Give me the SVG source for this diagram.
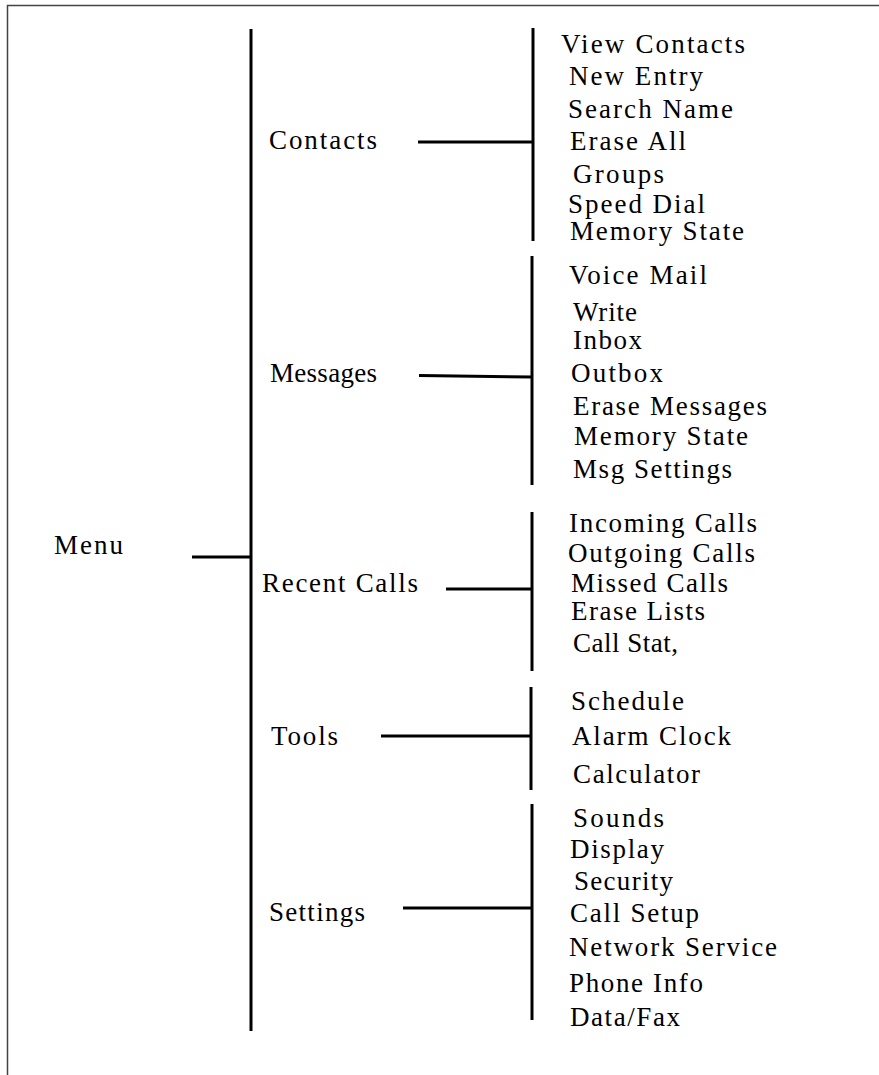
<svg xmlns="http://www.w3.org/2000/svg" width="879" height="1075" viewBox="0 0 879 1075">
<style>
text{font-family:'Liberation Serif','Times New Roman',serif;font-size:27px;fill:#000}
.c{stroke:#000;stroke-width:3;fill:none}
.b{stroke:#444;stroke-width:1.5;fill:none}
</style>
<rect width="879" height="1075" fill="#fff"/>
<path class="b" d="M7.5,1075 V5.5 H879"/>
<g id="connectors">
<line class="c" x1="251" y1="29" x2="251" y2="1031"/>
<line class="c" x1="192" y1="557" x2="251" y2="557"/>
<line class="c" x1="533" y1="28" x2="533" y2="241"/>
<line class="c" x1="418" y1="142" x2="533" y2="142"/>
<line class="c" x1="532" y1="256" x2="532" y2="485"/>
<line class="c" x1="419" y1="375.5" x2="532" y2="377"/>
<line class="c" x1="532" y1="512" x2="532" y2="671"/>
<line class="c" x1="446" y1="589" x2="532" y2="589"/>
<line class="c" x1="531" y1="687" x2="531" y2="790"/>
<line class="c" x1="381" y1="736" x2="531" y2="736"/>
<line class="c" x1="532" y1="804" x2="532" y2="1020"/>
<line class="c" x1="403" y1="908" x2="532" y2="908"/>
</g>
<g id="menu" font-family="Liberation Serif, serif"><text x="54" y="554" textLength="69" lengthAdjust="spacing">Menu</text></g>
<g id="contacts" font-family="Liberation Serif, serif">
<text x="269" y="149" textLength="108" lengthAdjust="spacing">Contacts</text>
<text x="561" y="53" textLength="184" lengthAdjust="spacing">View Contacts</text>
<text x="569" y="85" textLength="134" lengthAdjust="spacing">New Entry</text>
<text x="568" y="118" textLength="165" lengthAdjust="spacing">Search Name</text>
<text x="570" y="150" textLength="116" lengthAdjust="spacing">Erase All</text>
<text x="573" y="183" textLength="91" lengthAdjust="spacing">Groups</text>
<text x="568" y="213" textLength="137" lengthAdjust="spacing">Speed Dial</text>
<text x="570" y="240" textLength="174" lengthAdjust="spacing">Memory State</text>
</g>
<g id="messages" font-family="Liberation Serif, serif">
<text x="270" y="382" textLength="107" lengthAdjust="spacing">Messages</text>
<text x="569" y="284" textLength="138" lengthAdjust="spacing">Voice Mail</text>
<text x="573" y="321" textLength="64" lengthAdjust="spacing">Write</text>
<text x="573" y="349" textLength="69" lengthAdjust="spacing">Inbox</text>
<text x="571" y="382" textLength="92" lengthAdjust="spacing">Outbox</text>
<text x="573" y="415" textLength="194" lengthAdjust="spacing">Erase Messages</text>
<text x="574" y="445" textLength="174" lengthAdjust="spacing">Memory State</text>
<text x="573" y="478" textLength="159" lengthAdjust="spacing">Msg Settings</text>
</g>
<g id="recent-calls" font-family="Liberation Serif, serif">
<text x="262" y="592" textLength="156" lengthAdjust="spacing">Recent Calls</text>
<text x="569" y="532" textLength="188" lengthAdjust="spacing">Incoming Calls</text>
<text x="568" y="562" textLength="187" lengthAdjust="spacing">Outgoing Calls</text>
<text x="571" y="592" textLength="157" lengthAdjust="spacing">Missed Calls</text>
<text x="571" y="620" textLength="134" lengthAdjust="spacing">Erase Lists</text>
<text x="573" y="652" textLength="105" lengthAdjust="spacing">Call Stat,</text>
</g>
<g id="tools" font-family="Liberation Serif, serif">
<text x="271" y="745" textLength="67" lengthAdjust="spacing">Tools</text>
<text x="571" y="710" textLength="113" lengthAdjust="spacing">Schedule</text>
<text x="572" y="745" textLength="159" lengthAdjust="spacing">Alarm Clock</text>
<text x="573" y="783" textLength="127" lengthAdjust="spacing">Calculator</text>
</g>
<g id="settings" font-family="Liberation Serif, serif">
<text x="269" y="921" textLength="96" lengthAdjust="spacing">Settings</text>
<text x="573" y="827" textLength="91" lengthAdjust="spacing">Sounds</text>
<text x="570" y="858" textLength="94" lengthAdjust="spacing">Display</text>
<text x="574" y="890" textLength="99" lengthAdjust="spacing">Security</text>
<text x="570" y="922" textLength="129" lengthAdjust="spacing">Call Setup</text>
<text x="569" y="956" textLength="208" lengthAdjust="spacing">Network Service</text>
<text x="569" y="992" textLength="134" lengthAdjust="spacing">Phone Info</text>
<text x="570" y="1026" textLength="110" lengthAdjust="spacing">Data/Fax</text>
</g>
</svg>
